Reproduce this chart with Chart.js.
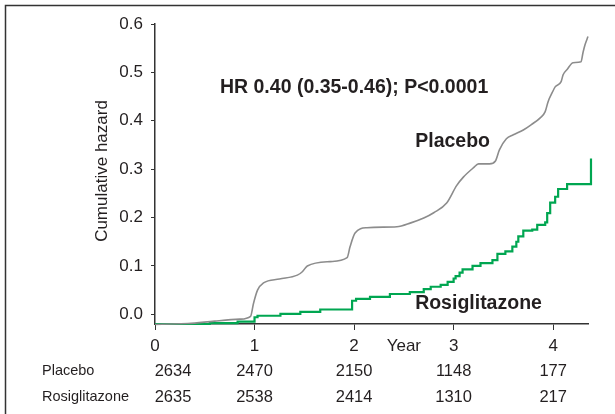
<!DOCTYPE html>
<html>
<head>
<meta charset="utf-8">
<script src="https://cdn.jsdelivr.net/npm/chart.js@4/dist/chart.umd.min.js"></script>
<style>
  body { margin: 0; background: #fff; }
  #wrap { width: 615px; height: 414px; }
</style>
</head>
<body>
<div id="wrap"><canvas id="chart" width="615" height="414"></canvas></div>
<script>
// values (years, cumulative hazard)
const placeboYears = [0, 0.33, 0.6, 0.85, 0.96, 0.99, 1.03, 1.09, 1.25, 1.43, 1.48, 1.53, 1.76, 1.93, 1.96, 2.01, 2.13, 2.43, 2.57, 2.70, 2.8, 2.93, 3.03, 3.1, 3.2, 3.25, 3.36, 3.42, 3.46, 3.53, 3.6, 3.7, 3.78, 3.87, 3.92, 3.95, 3.99, 4.02, 4.08, 4.1, 4.14, 4.2, 4.28, 4.3, 4.32, 4.35]
const placeboHazard = [-0.021, -0.019, -0.014, -0.01, -0.004, 0.023, 0.05, 0.065, 0.073, 0.081, 0.088, 0.1, 0.109, 0.117, 0.14, 0.168, 0.179, 0.181, 0.189, 0.199, 0.21, 0.23, 0.266, 0.284, 0.303, 0.311, 0.311, 0.317, 0.34, 0.363, 0.371, 0.381, 0.392, 0.406, 0.419, 0.44, 0.458, 0.47, 0.481, 0.495, 0.506, 0.52, 0.522, 0.541, 0.557, 0.574]

const rosiYears = [0, 0.55, 0.83, 1.0, 1.03, 1.26, 1.46, 1.66, 1.98, 2.02, 2.16, 2.36, 2.56, 2.70, 2.77, 2.87, 2.94, 3.0, 3.02, 3.06, 3.09, 3.19, 3.27, 3.39, 3.44, 3.52, 3.59, 3.63, 3.65, 3.7, 3.79, 3.84, 3.92, 3.94, 3.97, 4.02, 4.05, 4.14, 4.38, 4.43]
const rosiHazard = [-0.02, -0.018, -0.015, -0.006, -0.003, 0.001, 0.005, 0.01, 0.028, 0.032, 0.036, 0.042, 0.046, 0.052, 0.057, 0.061, 0.067, 0.074, 0.079, 0.086, 0.093, 0.1, 0.106, 0.112, 0.125, 0.13, 0.14, 0.15, 0.161, 0.173, 0.175, 0.185, 0.19, 0.209, 0.231, 0.243, 0.259, 0.269, 0.322, 0.322]

const yTicks = [0, 0.1, 0.2, 0.3, 0.4, 0.5, 0.6]
const xTicks = [0, 1, 2, 3, 4]

// numbers at risk
const atRiskYears = [0, 1, 2, 3, 4]
const placeboAtRisk = [2634, 2470, 2150, 1148, 177]
const rosiAtRisk = [2635, 2538, 2414, 1310, 217]

const FONT = "'Liberation Sans', Arial, sans-serif"
const INK = '#231f20'

const pts = (xs, ys) => xs.map((x, i) => ({ x: x, y: ys[i] }))

const overlay = {
  id: 'overlay',
  afterDraw(chart) {
    const { ctx, scales } = chart
    const xs = scales.x, ys = scales.y
    ctx.save()
    // frame
    ctx.strokeStyle = '#333'
    ctx.lineWidth = 1.5
    ctx.beginPath()
    ctx.moveTo(5.5, 414)
    ctx.lineTo(5.5, 5.5)
    ctx.lineTo(615, 5.5)
    ctx.stroke()

    ctx.fillStyle = INK
    // y title
    ctx.save()
    ctx.translate(102, 171)
    ctx.rotate(-Math.PI / 2)
    ctx.font = '17px ' + FONT
    ctx.textAlign = 'center'
    ctx.textBaseline = 'middle'
    ctx.fillText('Cumulative hazard', 0, 0)
    ctx.restore()

    ctx.textBaseline = 'middle'
    ctx.textAlign = 'center'
    ctx.font = '17px ' + FONT
    ctx.fillText('Year', xs.getPixelForValue(2.5), 346)

    ctx.font = 'bold 19.5px ' + FONT
    ctx.fillText('HR 0.40 (0.35-0.46); P<0.0001', xs.getPixelForValue(2.0), ys.getPixelForValue(0.468))
    ctx.fillText('Placebo', xs.getPixelForValue(2.99), ys.getPixelForValue(0.357))
    ctx.fillText('Rosiglitazone', xs.getPixelForValue(3.25), ys.getPixelForValue(0.023))

    // at-risk table
    ctx.textAlign = 'left'
    ctx.font = '14.5px ' + FONT
    ctx.fillText('Placebo', 42, 371)
    ctx.fillText('Rosiglitazone', 42, 397)
    ctx.textAlign = 'center'
    ctx.font = '16.5px ' + FONT
    atRiskYears.forEach((yr, i) => {
      const px = xs.getPixelForValue(yr) + (i === 0 ? 18 : 0)
      ctx.fillText(String(placeboAtRisk[i]), px, 371)
      ctx.fillText(String(rosiAtRisk[i]), px, 397)
    })
    ctx.restore()
  }
}

new Chart(document.getElementById('chart'), {
  type: 'line',
  data: {
    datasets: [
      {
        label: 'Placebo',
        data: pts(placeboYears, placeboHazard),
        borderColor: '#8c8c8c',
        borderWidth: 1.6,
        pointRadius: 0,
        cubicInterpolationMode: 'monotone',
        clip: false,
      },
      {
        label: 'Rosiglitazone',
        data: pts(rosiYears, rosiHazard),
        borderColor: '#00a651',
        borderWidth: 2.2,
        pointRadius: 0,
        stepped: true,
        clip: false,
      },
    ],
  },
  options: {
    responsive: false,
    animation: false,
    layout: { padding: { left: 0, right: 27, top: 24, bottom: 0 } },
    plugins: { legend: { display: false }, tooltip: { enabled: false } },
    scales: {
      x: {
        type: 'linear',
        min: 0,
        max: 4.35,
        afterFit: (s) => { s.height = 90 },
        afterBuildTicks: (s) => { s.ticks = xTicks.map((v) => ({ value: v })) },
        grid: { display: true, drawOnChartArea: false, drawTicks: true, tickLength: 6, color: '#333' },
        border: { color: '#333', width: 1.5 },
        ticks: { color: INK, font: { family: FONT, size: 17 }, padding: 6, maxRotation: 0 },
      },
      y: {
        type: 'linear',
        min: -0.02,
        max: 0.6,
        afterFit: (s) => { s.width = 155 },
        afterBuildTicks: (s) => { s.ticks = yTicks.map((v) => ({ value: v })) },
        grid: { display: true, drawOnChartArea: false, drawTicks: true, tickLength: 4, color: '#333' },
        border: { color: '#333', width: 1.5 },
        ticks: { color: INK, font: { family: FONT, size: 17 }, padding: 8, callback: (v) => v.toFixed(1) },
      },
    },
  },
  plugins: [overlay],
})
</script>
</body>
</html>
